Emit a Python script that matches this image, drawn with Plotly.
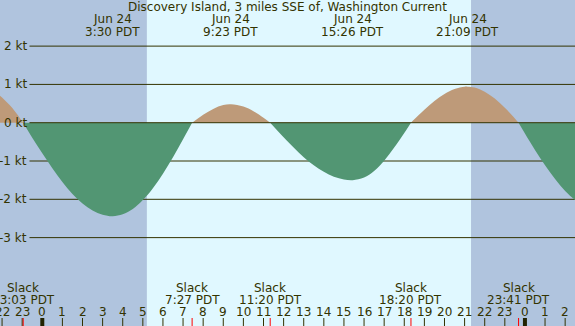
import plotly.graph_objects as go

# ---- data (hours relative to Jun 24 00:00 PDT, knots) ----
hours = [-2.2, -2.0, -1.75, -1.5, -1.25, -0.95, -0.5, 0, 0.5, 1, 1.5, 2, 2.5, 3, 3.5, 4, 4.5, 5,
         5.5, 6, 6.5, 7, 7.45, 8, 8.5, 9, 9.383, 10, 10.5, 11, 11.333, 12, 12.5, 13, 13.5, 14,
         14.5, 15, 15.433, 16, 16.5, 17, 17.5, 18, 18.333, 18.5, 19, 19.5, 20, 20.5, 21, 21.15,
         21.5, 22, 22.5, 23, 23.5, 23.683, 24, 24.5, 25, 25.5, 26, 26.5, 27]
speed = [0.74, 0.66, 0.53, 0.39, 0.22, 0, -0.39, -0.80, -1.19, -1.55, -1.86, -2.11, -2.29, -2.40,
         -2.44, -2.39, -2.25, -2.02, -1.71, -1.33, -0.90, -0.43, 0, 0.21, 0.36, 0.46, 0.48, 0.42,
         0.30, 0.13, 0, -0.38, -0.65, -0.90, -1.11, -1.28, -1.41, -1.48, -1.50, -1.43, -1.26,
         -0.99, -0.65, -0.27, 0, 0.09, 0.34, 0.57, 0.75, 0.88, 0.94, 0.94, 0.92, 0.81, 0.63, 0.39,
         0.11, 0, -0.28, -0.71, -1.11, -1.47, -1.78, -2.02, -2.19]

max_times = [3.5, 9.383, 15.433, 21.15]
max_labels = ["3:30 PDT", "9:23 PDT", "15:26 PDT", "21:09 PDT"]
max_dates = ["Jun 24", "Jun 24", "Jun 24", "Jun 24"]

slack_times = [-0.95, 7.45, 11.333, 18.333, 23.683]
slack_labels = ["23:03 PDT", "7:27 PDT", "11:20 PDT", "18:20 PDT", "23:41 PDT"]

sunrise = 5.2
sunset = 21.32

grid_values = [2, 1, 0, -1, -2, -3]
grid_labels = ["2 kt", "1 kt", "0 kt", "-1 kt", "-2 kt", "-3 kt"]

hour_ticks = list(range(-2, 27))
title = "Discovery Island, 3 miles SSE of, Washington Current"

# ---- styling ----
W, H = 575, 326
NIGHT = "#B0C4DE"
DAY = "#E0F8FF"
FLOOD = "#BE9A79"
EBB = "#529673"
INK = "#333300"
FONT = "DejaVu Sans"
XR = [-2.103, 26.49]
YR = [-5.308, 3.204]


def py(p):
    return 1 - p / H


fig = go.Figure()

# split series into segments between slack (zero) points
segments = []
cur_x, cur_y = [], []
for x, y in zip(hours, speed):
    cur_x.append(x)
    cur_y.append(y)
    if y == 0 and len(cur_x) > 1:
        segments.append((cur_x, cur_y))
        cur_x, cur_y = [x], [y]
if len(cur_x) > 1:
    segments.append((cur_x, cur_y))

for sx, sy in segments:
    positive = sum(sy) > 0
    col = FLOOD if positive else EBB
    fig.add_trace(go.Scatter(x=sx, y=sy, mode="lines", line=dict(width=0, color=col, shape="spline"),
                             fill="tozeroy", fillcolor=col, hoverinfo="skip", showlegend=False))

shapes = []
# night shading
shapes.append(dict(type="rect", xref="x", yref="paper", x0=XR[0] - 1, x1=sunrise, y0=0, y1=1,
                   fillcolor=NIGHT, line=dict(width=0), layer="below"))
shapes.append(dict(type="rect", xref="x", yref="paper", x0=sunset, x1=XR[1] + 1, y0=0, y1=1,
                   fillcolor=NIGHT, line=dict(width=0), layer="below"))
# grid lines
for g in grid_values:
    shapes.append(dict(type="line", xref="paper", yref="y", x0=29.5 / W, x1=1, y0=g, y1=g,
                       line=dict(color=INK, width=1), layer="above" if g == 0 else "below"))
# hour tick marks
for h in hour_ticks:
    thick = (h % 24 == 0)
    shapes.append(dict(type="line", xref="x", yref="paper", x0=h, x1=h, y0=0, y1=8 / H,
                       line=dict(color="#222200" if thick else INK, width=4 if thick else 1)))
for s in slack_times:
    shapes.append(dict(type="line", xref="x", yref="paper", x0=s, x1=s, y0=0, y1=8 / H,
                       line=dict(color="#FF0000", width=1)))

annotations = []
fnt = dict(family=FONT, size=12, color=INK)
annotations.append(dict(text=title, xref="paper", yref="paper", x=0.5, y=py(7.5),
                        xanchor="center", yanchor="middle", showarrow=False, font=fnt))
for t, d, lab in zip(max_times, max_dates, max_labels):
    annotations.append(dict(text=d, xref="x", yref="paper", x=t, y=py(19.5), xanchor="center",
                            yanchor="middle", showarrow=False, font=fnt))
    annotations.append(dict(text=lab, xref="x", yref="paper", x=t, y=py(31.5), xanchor="center",
                            yanchor="middle", showarrow=False, font=fnt))
for t, lab in zip(slack_times, slack_labels):
    annotations.append(dict(text="Slack", xref="x", yref="paper", x=t, y=py(287.5), xanchor="center",
                            yanchor="middle", showarrow=False, font=fnt))
    annotations.append(dict(text=lab, xref="x", yref="paper", x=t, y=py(299.5), xanchor="center",
                            yanchor="middle", showarrow=False, font=fnt))
for h in hour_ticks:
    annotations.append(dict(text=str(h % 24), xref="x", yref="paper", x=h, y=py(311.5),
                            xanchor="center", yanchor="middle", showarrow=False, font=fnt))
for g, lab in zip(grid_values, grid_labels):
    annotations.append(dict(text=lab, xref="paper", yref="y", x=28.5 / W, y=g, xanchor="right",
                            yanchor="middle", showarrow=False, font=fnt))

fig.update_layout(
    width=W, height=H,
    margin=dict(l=0, r=0, t=0, b=0, pad=0),
    paper_bgcolor=DAY, plot_bgcolor=DAY,
    xaxis=dict(range=XR, visible=False, fixedrange=True),
    yaxis=dict(range=YR, visible=False, fixedrange=True),
    shapes=shapes, annotations=annotations,
    showlegend=False,
)

fig.write_html("out.html", config=dict(displayModeBar=False))
